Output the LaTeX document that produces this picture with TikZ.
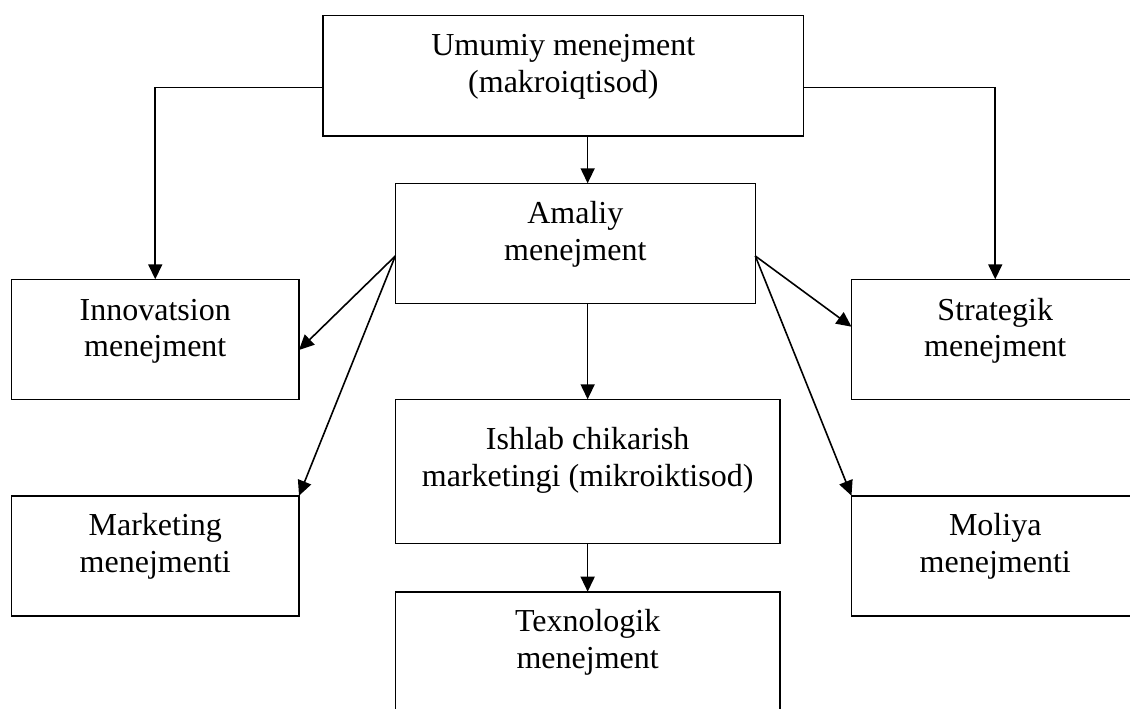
\documentclass[tikz,border=0pt]{standalone}
\usepackage{fontspec}
\setmainfont{Liberation Serif}
\usetikzlibrary{arrows.meta}

% fixed-size box text: width, height, first-baseline offset, lines
\newcommand\boxtext[4]{\parbox[c][#2][t]{#1}{\centering\rule{0pt}{#3}#4\par}}

\begin{document}
\begin{tikzpicture}[x=1pt,y=-1pt,
  unit/.style={draw, line width=1.6pt, inner sep=0pt, outer sep=0pt,
    font=\fontsize{32pt}{36.8pt}\selectfont},
  link/.style={line width=1.6pt, -{Triangle[length=15pt,width=14pt]}}]
  \useasboundingbox (0,0) rectangle (1130,709);
  \fill[white] (0,0) rectangle (1130,709);
  \clip (0,0) rectangle (1130,709);

  \node[unit] (U)  at (563.3,75.7)   {\boxtext{480.6pt}{120pt}{40pt}{Umumiy menejment\\(makroiqtisod)}};
  \node[unit] (A)  at (575.3,243.3)  {\boxtext{360pt}{120pt}{40pt}{Amaliy\\menejment}};
  \node[unit] (I)  at (155.25,339.3) {\boxtext{287.5pt}{120pt}{40.7pt}{Innovatsion\\menejment}};
  \node[unit] (S)  at (995.25,339.3) {\boxtext{287.5pt}{120pt}{40.7pt}{Strategik\\menejment}};
  \node[unit] (P)  at (587.65,471.3) {\boxtext{384.7pt}{144pt}{50pt}{Ishlab chikarish\\marketingi (mikroiktisod)}};
  \node[unit] (M)  at (155.25,555.85) {\boxtext{287.5pt}{120.3pt}{40pt}{Marketing\\menejmenti}};
  \node[unit] (F)  at (995.25,555.85) {\boxtext{287.5pt}{120.3pt}{40pt}{Moliya\\menejmenti}};
  \node[unit] (T)  at (587.65,663.7) {\boxtext{384.7pt}{144pt}{40pt}{Texnologik\\menejment}};

  % side branches from the top box
  \draw[link] ([yshift=-72pt]U.north west) -| (I.north);
  \draw[link] ([yshift=-72pt]U.north east) -| (S.north);

  % central column
  \draw[link] (U.south -| P.north) -- (A.north -| P.north);
  \draw[link] (A.south -| P.north) -- (P.north);
  \draw[link] (P.south) -- (T.north);

  % fan-out from the middle box
  \coordinate (AL) at ([yshift=-72.7pt]A.north west);
  \coordinate (AR) at ([yshift=-72.7pt]A.north east);
  \draw[link] (AL) -- ([yshift=-70.7pt]I.north east);
  \draw[link] (AL) -- (M.north east);
  \draw[link] (AR) -- ([yshift=-47.4pt]S.north west);
  \draw[link] (AR) -- (F.north west);
\end{tikzpicture}
\end{document}
